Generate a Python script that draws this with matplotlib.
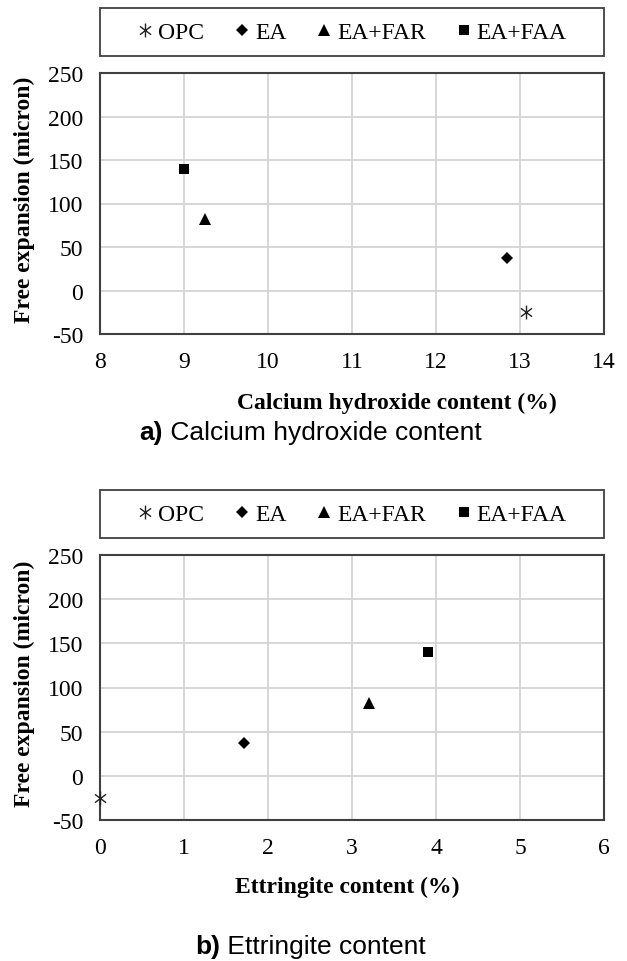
import numpy as np
import matplotlib.pyplot as plt
from matplotlib.path import Path
from matplotlib.patches import Rectangle

plt.rcParams["axes.unicode_minus"] = False

groups = ["OPC", "EA", "EA+FAR", "EA+FAA"]
free_expansion = [-25, 37, 82, 140]
ch_content = [13.07, 12.85, 9.25, 9.0]
ett_content = [0.0, 1.72, 3.2, 3.9]

# Excel style asterisk: x with a vertical stroke
ast = Path([(0, -1), (0, 1), (-0.8, -0.6), (0.8, 0.6), (-0.8, 0.6), (0.8, -0.6)],
           [Path.MOVETO, Path.LINETO, Path.MOVETO, Path.LINETO, Path.MOVETO, Path.LINETO])
styles = [dict(marker=ast, ms=10, mew=1.0, mfc="none", mec="#222222"),
          dict(marker="D", ms=6.5, mew=0, color="black"),
          dict(marker="^", ms=8.5, mew=0, color="black"),
          dict(marker="s", ms=7.5, mew=0, color="black")]

serif = "Liberation Serif"
W, H = 627, 962
fig = plt.figure(figsize=(W / 100, H / 100), dpi=100)


def panel(top, bottom, xvals, xlim, xticks):
    ax = fig.add_axes([100 / W, 1 - bottom / H, 504 / W, (bottom - top) / H])
    for name, x, y, st in zip(groups, xvals, free_expansion, styles):
        ax.plot([x], [y], ls="none", label=name, zorder=3, clip_on=False, **st)
    ax.set_xlim(*xlim)
    ax.set_ylim(-50, 250)
    ax.set_xticks(xticks)
    ax.set_yticks(np.arange(-50, 251, 50))
    ax.grid(True, color="#d4d4d4", lw=1.3)
    ax.set_axisbelow(True)
    for s in ax.spines.values():
        s.set_color("#404040")
        s.set_linewidth(1.5)
    ax.tick_params(length=0, labelsize=17, pad=12)
    for lab in ax.get_xticklabels() + ax.get_yticklabels():
        lab.set_fontfamily(serif)
    h = bottom - top
    box = Rectangle((0, 1 + 17 / h), 1, 48 / h, transform=ax.transAxes,
                    fill=False, ec="#404040", lw=1.3, clip_on=False)
    ax.add_patch(box)
    ax.legend(loc="center", bbox_to_anchor=(0, 1 + 17 / h, 1, 48 / h), ncol=4,
              frameon=False, handlelength=0.7, handletextpad=0.2,
              columnspacing=1.25, prop=dict(family=serif, size=17))
    return ax


panel(74, 335, ch_content, (8, 14), np.arange(8, 15, 1))
panel(556, 821, ett_content, (0, 6), np.arange(0, 7, 1))

for yc in (200, 684):
    fig.text(24 / W, 1 - yc / H, "Free expansion (micron)", rotation=90,
             ha="center", va="center", family=serif, weight="bold", size=17)

fig.text(397 / W, 1 - 403 / H, "Calcium hydroxide content (%)", ha="center",
         va="center", family=serif, weight="bold", size=17)
fig.text(347 / W, 1 - 887 / H, "Ettringite content (%)", ha="center",
         va="center", family=serif, weight="bold", size=17)

sans = "Liberation Sans"
fig.text(163 / W, 1 - 433 / H, "a)", ha="right", va="center", family=sans,
         weight="bold", size=19)
fig.text(163 / W, 1 - 433 / H, " Calcium hydroxide content", ha="left",
         va="center", family=sans, size=19)
fig.text(220 / W, 1 - 947 / H, "b)", ha="right", va="center", family=sans,
         weight="bold", size=19)
fig.text(220 / W, 1 - 947 / H, " Ettringite content", ha="left",
         va="center", family=sans, size=19)

fig.savefig("out.png", dpi=100)
